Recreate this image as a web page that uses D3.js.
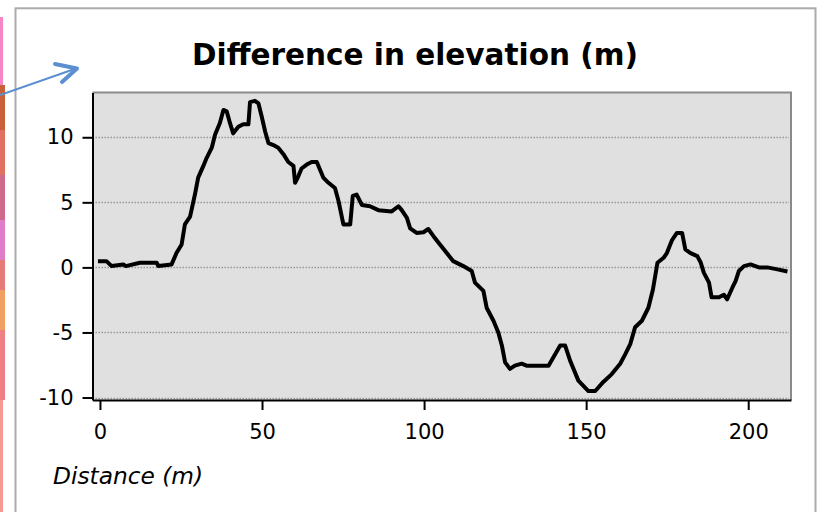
<!DOCTYPE html>
<html>
<head>
<meta charset="utf-8">
<script src="https://cdn.jsdelivr.net/npm/d3@7"></script>
<style>
  html, body { margin: 0; padding: 0; background: #fff; }
  svg { display: block; }
</style>
</head>
<body>
<svg id="chart" width="821" height="512"></svg>
<script>
const distance = [0,2,3.6,7.2,8,12.3,17.5,18,22.1,23.6,25.2,26.2,27.8,29.3,30.3,31.9,32.9,34.5,35.5,37,38.1,39.1,40.1,41.1,42.7,44.2,45.8,46.3,47.8,48.9,49.9,51,52,53.5,55,56.6,58.1,59.7,60.2,61.2,62.2,63.8,65.3,66.9,67.9,68.9,70.5,72.5,73.6,75.1,77.2,78,79.2,80.8,83.3,85.9,90,92.1,93.1,94.7,95.7,97.7,99.8,101.3,102.9,104.9,107,109,112.1,114.7,115.7,118.3,119.3,121.4,122.9,124,125,126.5,128,130.1,131.6,138.4,139.9,142,143.5,145.1,147.6,150.7,152.8,155.3,157.9,160.5,162,163.6,165.1,167.2,169.2,170.6,172,173.9,174.9,176.5,178,179.6,180.6,182.2,184.3,185.3,186.3,187.9,188.7,191,192.5,193.5,195.1,196.1,197.1,198.7,200.7,203.3,205.9,209,211.5];
const elevation = [0.48,0.48,0.1,0.23,0.1,0.36,0.36,0.1,0.23,1.1,1.76,3.3,3.9,5.6,6.9,7.8,8.4,9.2,10.2,11.1,12.1,12.0,11.1,10.3,10.8,11.0,11.0,12.7,12.8,12.6,11.6,10.4,9.55,9.4,9.2,8.7,8.1,7.8,6.5,7.0,7.6,7.9,8.1,8.1,7.5,6.9,6.5,6.1,5.1,3.3,3.3,5.5,5.6,4.8,4.7,4.4,4.3,4.7,4.4,3.8,3.0,2.65,2.7,2.95,2.4,1.76,1.1,0.48,0.1,-0.28,-1.17,-1.8,-3.1,-4.1,-5.0,-6.0,-7.3,-7.8,-7.55,-7.4,-7.55,-7.55,-6.9,-6.0,-6.0,-7.2,-8.7,-9.5,-9.5,-8.8,-8.2,-7.4,-6.7,-5.9,-4.6,-4.1,-3.1,-1.7,0.36,0.74,1.1,2.1,2.65,2.65,1.38,1.1,0.87,0.4,-0.4,-1.17,-2.3,-2.3,-2.1,-2.45,-1.56,-1.05,-0.28,0.1,0.23,0.0,0.0,-0.15,-0.28];
const xTicks = [0, 50, 100, 150, 200];
const yTicks = [-10, -5, 0, 5, 10];
const titleText = "Difference in elevation (m)";
const xLabelText = "Distance (m)";

const svg = d3.select("#chart");
const plot = { left: 92.5, right: 791, top: 92.5, bottom: 400 };

const x = d3.scaleLinear().domain([-2.3, 213.2]).range([plot.left, plot.right]);
const y = d3.scaleLinear().domain([-10.19, 13.44]).range([plot.bottom, plot.top]);

// decorative left strip (background map edge)
const strip = svg.append("g");
strip.append("rect").attr("x", 0).attr("y", 17).attr("width", 3).attr("height", 68).attr("fill", "#f585c4");
strip.append("rect").attr("x", 0).attr("y", 85).attr("width", 5).attr("height", 45).attr("fill", "#c8613a");
strip.append("rect").attr("x", 0).attr("y", 130).attr("width", 5).attr("height", 45).attr("fill", "#e07062");
strip.append("rect").attr("x", 0).attr("y", 175).attr("width", 5).attr("height", 45).attr("fill", "#d06a8c");
strip.append("rect").attr("x", 0).attr("y", 220).attr("width", 5).attr("height", 40).attr("fill", "#e07cc8");
strip.append("rect").attr("x", 0).attr("y", 260).attr("width", 5).attr("height", 30).attr("fill", "#e57a78");
strip.append("rect").attr("x", 0).attr("y", 290).attr("width", 5).attr("height", 40).attr("fill", "#f0a060");
strip.append("rect").attr("x", 0).attr("y", 330).attr("width", 5).attr("height", 70).attr("fill", "#f07f84");
strip.append("rect").attr("x", 0).attr("y", 400).attr("width", 3).attr("height", 112).attr("fill", "#f59a90");

// outer frame
svg.append("rect")
  .attr("x", 15.5).attr("y", 8.3).attr("width", 800).attr("height", 520)
  .attr("fill", "none").attr("stroke", "#ababab").attr("stroke-width", 2);

// arrow
svg.append("line").attr("x1", 0).attr("y1", 95).attr("x2", 76).attr("y2", 68.5)
  .attr("stroke", "#5b8fd0").attr("stroke-width", 2);
svg.append("polyline").attr("points", "55,64 77,68.5 62,82")
  .attr("fill", "none").attr("stroke", "#5b8fd0").attr("stroke-width", 4)
  .attr("stroke-linecap", "round").attr("stroke-linejoin", "round");

// plot background
svg.append("rect")
  .attr("x", plot.left).attr("y", plot.top)
  .attr("width", plot.right - plot.left).attr("height", plot.bottom - plot.top)
  .attr("fill", "#e0e0e0");

// gridlines
svg.append("g").selectAll("line").data(yTicks).join("line")
  .attr("x1", plot.left).attr("x2", plot.right - 2)
  .attr("y1", d => Math.round(y(d)) + 0.5).attr("y2", d => Math.round(y(d)) + 0.5)
  .attr("stroke", "#969696").attr("stroke-width", 1.5).attr("stroke-dasharray", "1.5,1.5");

// top and right border
svg.append("path")
  .attr("d", `M${plot.left},${plot.top} H${plot.right} V${plot.bottom}`)
  .attr("fill", "none").attr("stroke", "#8a8a8a").attr("stroke-width", 2);

// line
const line = d3.line().x((d, i) => x(distance[i])).y(d => y(d));
svg.append("path")
  .datum(elevation)
  .attr("d", line)
  .attr("fill", "none").attr("stroke", "#000").attr("stroke-width", 4)
  .attr("stroke-linejoin", "round").attr("stroke-linecap", "square");

// axes
const fontFam = "'DejaVu Sans', Verdana, sans-serif";
const yAxis = svg.append("g").attr("transform", `translate(${plot.left},0)`)
  .call(d3.axisLeft(y).tickValues(yTicks).tickSize(10).tickPadding(9).tickSizeOuter(0).tickFormat(d3.format("d")));
const xAxis = svg.append("g").attr("transform", `translate(0,${plot.bottom})`)
  .call(d3.axisBottom(x).tickValues(xTicks).tickSize(10).tickPadding(14).tickSizeOuter(0).tickFormat(d3.format("d")));
[yAxis, xAxis].forEach(a => {
  a.select(".domain").attr("stroke", "#000").attr("stroke-width", 2);
  a.selectAll(".tick line").attr("stroke", "#000").attr("stroke-width", 2);
  a.selectAll(".tick text").attr("fill", "#000").style("font-family", fontFam).style("font-size", "21px");
});
yAxis.selectAll(".tick text").text(d => String(d).replace("\u2212", "-"));

// title
svg.append("text")
  .attr("x", 415).attr("y", 65).attr("text-anchor", "middle")
  .style("font-family", fontFam).style("font-weight", "bold").style("font-size", "29.5px")
  .attr("fill", "#000").text(titleText);

// x-axis label
svg.append("text")
  .attr("x", 53).attr("y", 484)
  .style("font-family", fontFam).style("font-style", "italic").style("font-size", "23.3px")
  .attr("fill", "#000").text(xLabelText);
</script>
</body>
</html>
